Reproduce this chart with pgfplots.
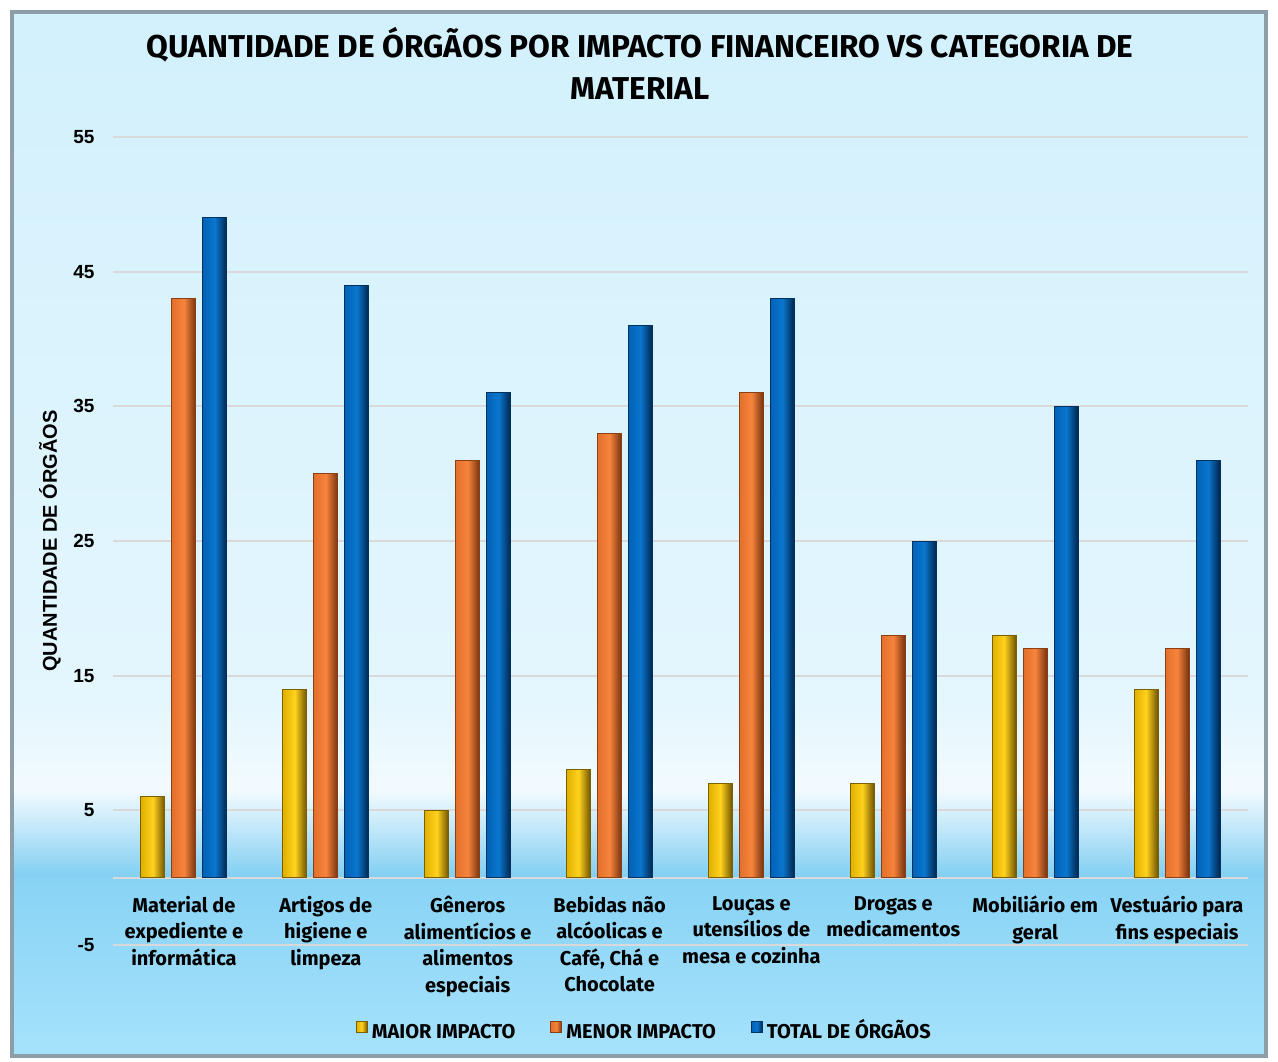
\documentclass[border=0pt]{standalone}
\usepackage{pgfplots}
\pgfplotsset{compat=1.18}
\usepackage{fontspec}
\setmainfont{Fira Sans}
\newfontfamily\arialfont{Liberation Sans}

\definecolor{bgTop}{HTML}{D2F1FC}
\definecolor{bgMid}{HTML}{E4F6FE}
\definecolor{bgLight}{HTML}{F2FBFF}
\definecolor{bgBlue}{HTML}{80CEF2}
\definecolor{bgBlueB}{HTML}{88D3F5}
\definecolor{bgLow}{HTML}{A6E2FB}
\definecolor{frameGray}{HTML}{8E9EA8}
\definecolor{gridGray}{HTML}{D9D9D9}
\definecolor{yL}{HTML}{E0B000}
\definecolor{yM}{HTML}{FFD21E}
\definecolor{yR}{HTML}{6E5200}
\definecolor{yD}{HTML}{7A6000}
\definecolor{oL}{HTML}{E2702C}
\definecolor{oM}{HTML}{F7843C}
\definecolor{oR}{HTML}{743210}
\definecolor{oD}{HTML}{8A4012}
\definecolor{bL}{HTML}{0062B6}
\definecolor{bM}{HTML}{0A76CE}
\definecolor{bR}{HTML}{00244A}
\definecolor{bD}{HTML}{003262}

% one \addplot per bar, so that every bar gets its own left-to-right shading
\pgfplotsset{
  sqleg/.style={legend image code/.code={\fill[##1] (0pt,-0.5pt) rectangle (5.5pt,5pt);}},
  barY/.style={left color=yL, right color=yR, middle color=yM, draw=yD, line width=0.5pt, sqleg},
  barO/.style={left color=oL, right color=oR, middle color=oM, draw=oD, line width=0.5pt, sqleg},
  barB/.style={left color=bL, right color=bR, middle color=bM, draw=bD, line width=0.5pt, sqleg},
  sY/.style={ybar, bar width=12pt, bar shift=-15.5pt, barY, forget plot},
  sO/.style={ybar, bar width=12pt, bar shift=0pt, barO, forget plot},
  sB/.style={ybar, bar width=12pt, bar shift=15.5pt, barB, forget plot},
}

\begin{document}
\begin{tikzpicture}
% chart area background
\fill[white] (-56.5pt,-58pt) rectangle (582.5pt,472.5pt);
\shade[top color=bgTop, bottom color=bgMid] (-50.5pt,122pt) rectangle (576.5pt,466.5pt);
\shade[top color=bgMid, bottom color=bgLight] (-50.5pt,77pt) rectangle (576.5pt,122.5pt);
\shade[top color=bgLight, bottom color=bgBlue] (-50.5pt,33.5pt) rectangle (576.5pt,77.5pt);
\shade[top color=bgBlueB, bottom color=bgLow] (-50.5pt,-55.5pt) rectangle (576.5pt,34pt);
\draw[frameGray, line width=2pt] (-50.5pt,-55.5pt) rectangle (576.5pt,466.5pt);

\begin{axis}[
  scale only axis, width=567.5pt, height=404pt,
  at={(0pt,0pt)}, anchor=south west,
  xmin=-0.5, xmax=7.5, ymin=-5, ymax=55,
  xtick={0,...,7},
  xticklabels={Material de\\expediente e\\informática,
    Artigos de\\higiene e\\limpeza,
    Gêneros\\alimentícios e\\alimentos\\especiais,
    {Bebidas não\\alcóolicas e\\Café, Chá e\\Chocolate},
    Louças e\\utensílios de\\mesa e cozinha,
    Drogas e\\medicamentos,
    Mobiliário em\\geral,
    Vestuário para\\fins especiais},
  ytick={-5,5,15,25,35,45,55},
  extra y ticks={0}, extra y tick labels={},
  extra y tick style={grid=major},
  ymajorgrids, grid style={draw=gridGray, line width=1pt},
  axis line style={draw=none}, major tick length=0pt,
  /pgf/number format/assume math mode=true,
  xticklabel style={font=\fontsize{10}{13.25}\selectfont\bfseries, align=center,
    anchor=north, inner sep=0pt, yshift=24.6pt},
  yticklabel style={font=\arialfont\bfseries\fontsize{9.5}{11}\selectfont, xshift=-5.7pt},
  ylabel={QUANTIDADE DE ÓRGÃOS},
  ylabel style={font=\arialfont\bfseries\fontsize{10}{12}\selectfont,
    at={(axis description cs:-0.0555,0.5)}, anchor=center},
  legend columns=3,
  legend style={draw=none, fill=none, at={(axis description cs:0.469,-0.1064)},
    anchor=center, font=\bfseries\fontsize{10}{12}\selectfont,
    nodes={text height=7.2pt, text depth=0pt, inner ysep=1pt},
    /tikz/every even column/.append style={column sep=15.5pt}},
]
\addlegendimage{barY}\addlegendentry{MAIOR IMPACTO}
\addlegendimage{barO}\addlegendentry{MENOR IMPACTO}
\addlegendimage{barB}\addlegendentry{TOTAL DE ÓRGÃOS}

% MAIOR IMPACTO
\addplot[sY] coordinates {(0,6)};
\addplot[sY] coordinates {(1,14)};
\addplot[sY] coordinates {(2,5)};
\addplot[sY] coordinates {(3,8)};
\addplot[sY] coordinates {(4,7)};
\addplot[sY] coordinates {(5,7)};
\addplot[sY] coordinates {(6,18)};
\addplot[sY] coordinates {(7,14)};
% MENOR IMPACTO
\addplot[sO] coordinates {(0,43)};
\addplot[sO] coordinates {(1,30)};
\addplot[sO] coordinates {(2,31)};
\addplot[sO] coordinates {(3,33)};
\addplot[sO] coordinates {(4,36)};
\addplot[sO] coordinates {(5,18)};
\addplot[sO] coordinates {(6,17)};
\addplot[sO] coordinates {(7,17)};
% TOTAL DE ORGAOS
\addplot[sB] coordinates {(0,49)};
\addplot[sB] coordinates {(1,44)};
\addplot[sB] coordinates {(2,36)};
\addplot[sB] coordinates {(3,41)};
\addplot[sB] coordinates {(4,43)};
\addplot[sB] coordinates {(5,25)};
\addplot[sB] coordinates {(6,35)};
\addplot[sB] coordinates {(7,31)};
\end{axis}

\node[align=center, font=\bfseries\fontsize{15.8}{21}\selectfont]
  at (263.5pt,441pt) {QUANTIDADE DE ÓRGÃOS POR IMPACTO FINANCEIRO VS CATEGORIA DE\\MATERIAL};
\end{tikzpicture}
\end{document}
